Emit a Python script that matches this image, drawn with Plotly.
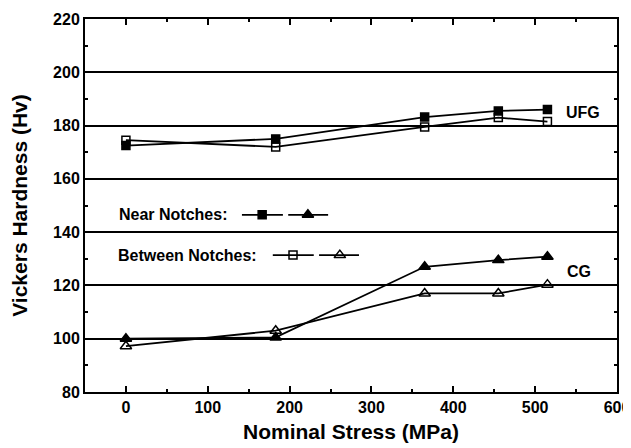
import plotly.graph_objects as go

stress = [0, 183, 365, 455, 515]
ufg_near = [172.5, 175.0, 183.2, 185.5, 186.0]
ufg_between = [174.5, 172.0, 179.5, 183.0, 181.5]
cg_near = [100.0, 100.5, 127.0, 129.5, 130.8]
cg_between = [97.2, 103.0, 117.0, 117.0, 120.3]

x_ticks = [0, 100, 200, 300, 400, 500, 600]
y_ticks = [80, 100, 120, 140, 160, 180, 200, 220]

FONT = "Liberation Sans, Arial, sans-serif"

fig = go.Figure()

def add(y, symbol):
    fig.add_trace(go.Scatter(
        x=stress, y=y, mode="lines+markers",
        line=dict(color="black", width=1.8),
        marker=dict(symbol=symbol, size=10 if "triangle" in symbol else 8,
                    color="black", line=dict(color="black", width=1.5)),
        showlegend=False, hoverinfo="skip"))

add(ufg_near, "square")
add(ufg_between, "square-open")
add(cg_near, "triangle-up")
add(cg_between, "triangle-up-open")

# legend keys on an overlay paper-like axis
def key(x0, xm, x1, y, symbol):
    fig.add_trace(go.Scatter(x=[x0, x1], y=[y, y], mode="lines",
                             line=dict(color="black", width=1.8),
                             xaxis="x2", yaxis="y2", showlegend=False, hoverinfo="skip"))
    fig.add_trace(go.Scatter(x=[xm], y=[y], mode="markers",
                             marker=dict(symbol=symbol, size=10 if "triangle" in symbol else 8,
                                         color="black", line=dict(color="black", width=1.5)),
                             xaxis="x2", yaxis="y2", showlegend=False, hoverinfo="skip"))

key(0.295, 0.333, 0.372, 0.475, "square")
key(0.382, 0.419, 0.457, 0.475, "triangle-up")
key(0.353, 0.391, 0.430, 0.367, "square-open")
key(0.440, 0.479, 0.515, 0.367, "triangle-up-open")

ann_font = dict(family=FONT, size=16, color="black", weight="bold")
for text, x, y in [("Near Notches:", 0.060, 0.475), ("Between Notches:", 0.058, 0.367),
                   ("UFG", 0.900, 0.748), ("CG", 0.903, 0.324)]:
    fig.add_annotation(text=text, x=x, y=y, xref="paper", yref="paper",
                       xanchor="left", yanchor="middle", showarrow=False, font=ann_font)

# page has an 8px body margin, so the figure is 8px smaller each way
fig.update_layout(
    width=623, height=440,
    margin=dict(l=77, r=14, t=11, b=56),
    plot_bgcolor="white", paper_bgcolor="white",
    font=dict(family=FONT, color="black"),
    xaxis=dict(range=[-50, 600], tickvals=x_ticks, showgrid=False, zeroline=False,
               automargin=False,
               showline=True, linecolor="black", linewidth=2, mirror="ticks",
               ticks="inside", ticklen=6, tickwidth=2, tickcolor="black",
               minor=dict(dtick=50, tick0=-50, ticks="inside", ticklen=3, tickwidth=2, tickcolor="black"),
               tickfont=dict(family=FONT, size=16, weight="bold"),
               title=dict(text="Nominal Stress (MPa)", standoff=9,
                          font=dict(family=FONT, size=21, weight="bold"))),
    yaxis=dict(range=[80, 220], tickvals=y_ticks, showgrid=True, gridcolor="black", gridwidth=1.5,
               automargin=False,
               zeroline=False, showline=True, linecolor="black", linewidth=2, mirror="ticks",
               ticks="inside", ticklen=6, tickwidth=2, tickcolor="black",
               minor=dict(dtick=10, tick0=80, ticks="inside", ticklen=3, tickwidth=2, tickcolor="black"),
               tickfont=dict(family=FONT, size=16, weight="bold"),
               title=dict(text="Vickers Hardness (Hv)", standoff=28,
                          font=dict(family=FONT, size=21, weight="bold"))),
    xaxis2=dict(range=[0, 1], overlaying="x", visible=False),
    yaxis2=dict(range=[0, 1], overlaying="y", visible=False),
)

fig.write_html("out.html")
